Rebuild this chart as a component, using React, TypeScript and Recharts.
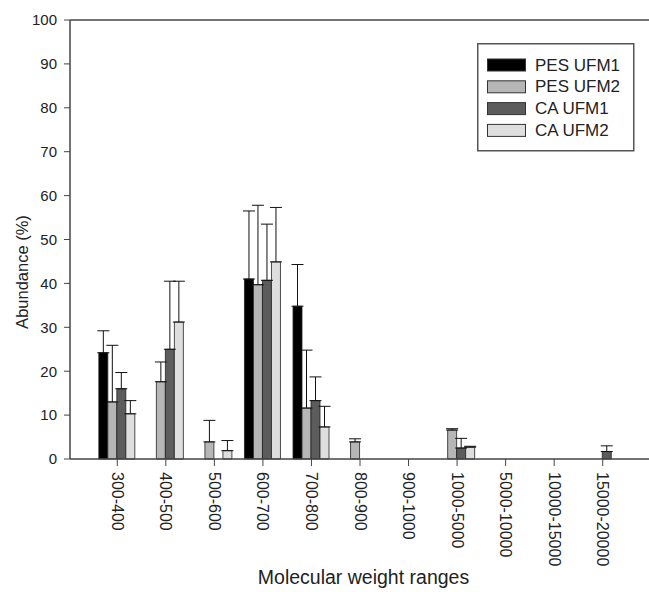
import React from 'react';
import { BarChart, Bar, XAxis, YAxis, ErrorBar, ReferenceLine, Legend } from 'recharts';

const categories = ['300-400', '400-500', '500-600', '600-700', '700-800', '800-900', '900-1000', '1000-5000', '5000-10000', '10000-15000', '15000-20000'];
const yTicks = [0, 10, 20, 30, 40, 50, 60, 70, 80, 90, 100];

const seriesNames = ['PES UFM1', 'PES UFM2', 'CA UFM1', 'CA UFM2'];
const pesUfm1 = [24.2, null, null, 41.0, 34.8, null, null, null, null, null, null];
const pesUfm2 = [13.0, 17.6, 3.9, 39.7, 11.6, 3.9, null, 6.6, null, null, null];
const caUfm1 = [16.0, 25.0, null, 40.7, 13.3, null, null, 2.5, null, null, 1.7];
const caUfm2 = [10.3, 31.2, 1.9, 44.9, 7.3, null, null, 2.7, null, null, null];

const pesUfm1Err = [5.0, null, null, 15.5, 9.5, null, null, null, null, null, null];
const pesUfm2Err = [12.9, 4.5, 4.9, 18.1, 13.2, 0.7, null, 0.3, null, null, null];
const caUfm1Err = [3.7, 15.5, null, 12.8, 5.4, null, null, 2.2, null, null, 1.3];
const caUfm2Err = [3.0, 9.3, 2.3, 12.4, 4.7, null, null, 0.2, null, null, null];

const colors = ['#000000', '#b6b6b6', '#5c5c5c', '#dedede'];
const FONT = 'Liberation Sans, Arial, Helvetica, sans-serif';

const valueSets = [pesUfm1, pesUfm2, caUfm1, caUfm2];
const errSets = [pesUfm1Err, pesUfm2Err, caUfm1Err, caUfm2Err];
const keys = ['s0', 's1', 's2', 's3'];

const data = categories.map((name, i) => {
  const row: any = { name };
  keys.forEach((k, j) => {
    row[k] = valueSets[j][i];
    const e = errSets[j][i];
    row[k + 'e'] = e == null ? null : [0, e];
  });
  return row;
});

const XTick = (props: any) => {
  const { x, y, payload } = props;
  return (
    <text
      transform={`translate(${x},${y + 4}) rotate(90)`}
      textAnchor="start"
      dominantBaseline="central"
      fontSize={16}
      fontFamily={FONT}
      fill="#222"
    >
      {payload.value}
    </text>
  );
};

const LegendBox = () => (
  <svg width={158} height={110} style={{ display: 'block' }}>
    <rect x={0.75} y={0.75} width={156} height={107} fill="#fff" stroke="#555" strokeWidth={1.5} />
    {seriesNames.map((name, i) => {
      const cy = 22 + i * 21.8;
      return (
        <g key={name}>
          <rect x={10.5} y={cy - 6} width={38} height={12} fill={colors[i]} stroke="#333" strokeWidth={1} />
          <text x={58} y={cy} dominantBaseline="central" fontSize={17} fontFamily={FONT} fill="#222">
            {name}
          </text>
        </g>
      );
    })}
  </svg>
);

const YLabel = () => (
  <text
    transform="translate(22,272) rotate(-90)"
    textAnchor="middle"
    dominantBaseline="central"
    fontSize={16.5}
    fontFamily={FONT}
    fill="#222"
  >
    Abundance (%)
  </text>
);

export default function App() {
  return (
    <div style={{ position: 'absolute', left: 0, top: 0, width: 649, height: 592, background: '#fff' }}>
      <BarChart
        width={649}
        height={592}
        data={data}
        margin={{ top: 20, right: 0, bottom: 0, left: 0 }}
        barCategoryGap="12%"
        barGap={0}
      >
        <XAxis
          dataKey="name"
          type="category"
          interval={0}
          padding={{ left: 23, right: 22 }}
          height={133}
          tickSize={7}
          tickMargin={2}
          tickLine={{ stroke: '#444' }}
          axisLine={{ stroke: '#444', strokeWidth: 1.5 }}
          tick={<XTick />}
          label={{ value: 'Molecular weight ranges', position: 'insideBottom', offset: 8, dx: 4, fontSize: 19.5, fontFamily: FONT, fill: '#222' }}
        />
        <YAxis
          type="number"
          domain={[0, 100]}
          ticks={yTicks}
          width={70}
          tickSize={6}
          tickMargin={7}
          interval={0}
          tickLine={{ stroke: '#444' }}
          axisLine={{ stroke: '#444', strokeWidth: 1.5 }}
          tick={{ fontSize: 15, fontFamily: FONT, fill: '#222' }}
          label={<YLabel />}
        />
        <ReferenceLine y={100} stroke="#444" strokeWidth={1.5} ifOverflow="visible" />
        <Legend
          layout="vertical"
          align="center"
          verticalAlign="middle"
          content={<LegendBox />}
          wrapperStyle={{ left: 477, top: 43, width: 158, height: 110 }}
        />
        {keys.map((k, j) => (
          <Bar
            key={k}
            dataKey={k}
            name={seriesNames[j]}
            fill={colors[j]}
            stroke="#222"
            strokeWidth={0.8}
            isAnimationActive={false}
          >
            <ErrorBar dataKey={k + 'e'} width={6} stroke="#111" strokeWidth={1} direction="y" />
          </Bar>
        ))}
      </BarChart>
    </div>
  );
}
